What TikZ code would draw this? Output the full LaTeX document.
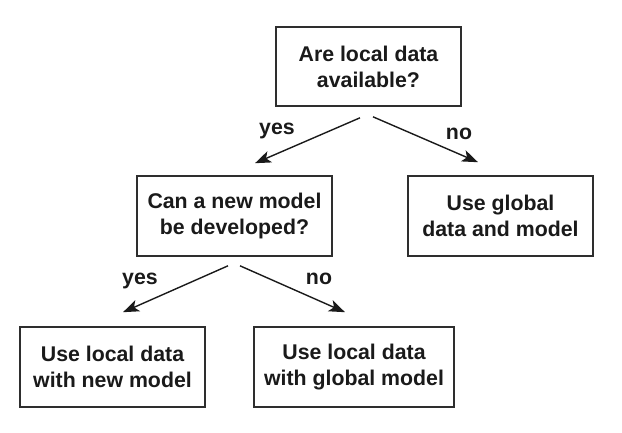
\documentclass[tikz,border=0pt]{standalone}
\usepackage{fontspec}
\setmainfont{Liberation Sans}
\usetikzlibrary{arrows.meta}
\definecolor{ink}{HTML}{1A1A1A}
\definecolor{edge}{HTML}{2E2E2E}
\tikzset{
  box/.style={draw=edge, line width=1.6pt, fill=white, align=center, inner sep=0pt,
    font=\bfseries\fontsize{21.3}{26}\selectfont, text=ink},
  lbl/.style={inner sep=0pt, font=\bfseries\fontsize{21.3}{26}\selectfont, text=ink},
  arr/.style={draw=ink, line width=1.4pt, -{Stealth[length=16pt,width=12pt,inset=4pt]}}
}
\begin{document}
\begin{tikzpicture}[x=1pt,y=-1pt]
\useasboundingbox (0,0) rectangle (622,432);
\node[box, minimum width=185pt, minimum height=79pt] (b1) at (368.5,66.5) {Are local data\\available?};
\node[box, minimum width=195pt, minimum height=80pt] (b2) at (234.5,216) {Can a new model\\be developed?};
\node[box, minimum width=185pt, minimum height=80pt] (b3) at (500.5,216) {Use global\\data and model};
\node[box, minimum width=185pt, minimum height=80pt] (b4) at (112.5,367) {Use local data\\with new model};
\node[box, minimum width=200pt, minimum height=80pt] (b5) at (354,367) {Use local data\\with global model};
\draw[arr] ([xshift=-8.5pt,yshift=-11pt]b1.south) -- ([xshift=20.5pt,yshift=12pt]b2.north);
\draw[arr] ([xshift=4.5pt,yshift=-10pt]b1.south) -- ([xshift=-22.5pt,yshift=13pt]b3.north);
\draw[arr] ([xshift=-6.5pt,yshift=-9pt]b2.south) -- ([xshift=10.5pt,yshift=14pt]b4.north);
\draw[arr] ([xshift=5.5pt,yshift=-9pt]b2.south) -- ([xshift=-9pt,yshift=14pt]b5.north);
\node[lbl] (y1) at (277,131) {yes};
\node[lbl] (n1) at (459,134) {no};
\node[lbl] (y2) at (140,281) {yes};
\node[lbl] (n2) at (319,279) {no};
\end{tikzpicture}
\end{document}
